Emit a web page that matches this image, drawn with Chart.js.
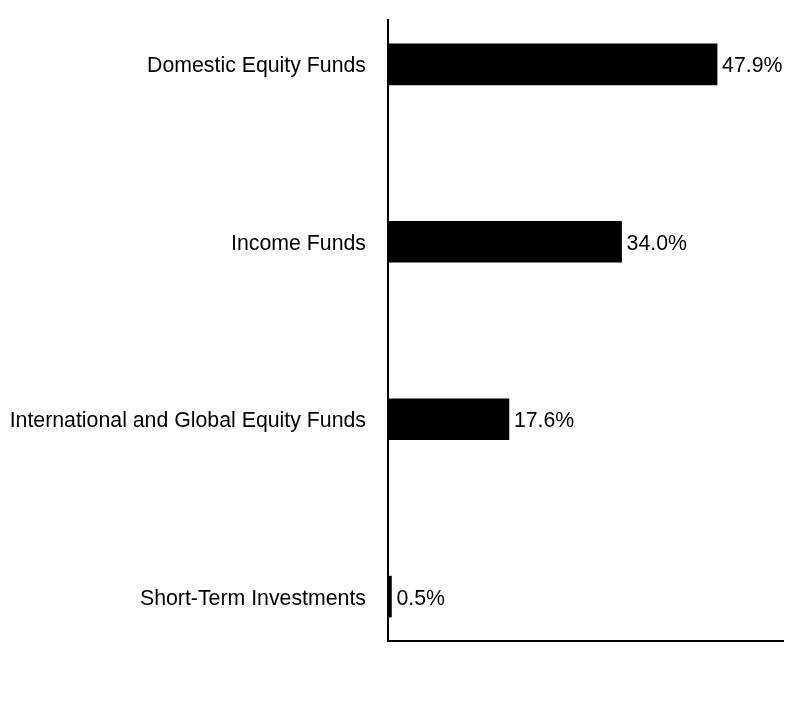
<!DOCTYPE html>
<html>
<head>
<meta charset="utf-8">
<script src="https://cdn.jsdelivr.net/npm/chart.js@4.4.0/dist/chart.umd.min.js"></script>
<style>
  html, body { margin: 0; padding: 0; background: #fff; }
  #wrap { width: 804px; height: 720px; }
</style>
</head>
<body>
<div id="wrap"><canvas id="chart"></canvas></div>
<script>
// chart data
const categories = ['Domestic Equity Funds', 'Income Funds', 'International and Global Equity Funds', 'Short-Term Investments'];
const values = [47.9, 34.0, 17.6, 0.5];
const valueLabels = ['47.9%', '34.0%', '17.6%', '0.5%'];

const FONT = '"Liberation Sans", Arial, sans-serif';
const FONT_SIZE = 21.3;

// value text at the end of each bar
const barLabels = {
  id: 'barLabels',
  afterDatasetsDraw(chart) {
    const ctx = chart.ctx;
    const meta = chart.getDatasetMeta(0);
    ctx.save();
    ctx.font = FONT_SIZE + 'px ' + FONT;
    ctx.fillStyle = '#000';
    ctx.textAlign = 'left';
    ctx.textBaseline = 'middle';
    meta.data.forEach((bar, i) => {
      ctx.fillText(valueLabels[i], bar.x + 5, bar.y + 2);
    });
    ctx.restore();
  }
};

new Chart(document.getElementById('chart').getContext('2d'), {
  type: 'bar',
  data: {
    datasets: [{
      data: values.map((v, i) => ({ x: v, y: i })),
      backgroundColor: '#000',
      borderWidth: 0,
      barThickness: 41
    }]
  },
  options: {
    indexAxis: 'y',
    responsive: true,
    maintainAspectRatio: false,
    animation: false,
    layout: { padding: { top: 20, right: 21, bottom: 79, left: 0 } },
    plugins: {
      legend: { display: false },
      tooltip: { enabled: false }
    },
    scales: {
      x: {
        type: 'linear',
        min: 0,
        max: 57.5,
        grid: { display: false, drawTicks: false },
        border: { display: true, color: '#000', width: 2 },
        ticks: { display: false }
      },
      y: {
        type: 'linear',
        bounds: 'data',
        offset: false,
        reverse: true,
        min: -0.25,
        max: 3.25,
        // one tick per category
        afterBuildTicks(scale) {
          scale.ticks = categories.map((c, i) => ({ value: i }));
        },
        afterFit(scale) {
          scale.width = 388;
          scale.paddingTop = 0;
          scale.paddingBottom = 0;
        },
        grid: { display: false, drawTicks: false, offset: false },
        border: { display: true, color: '#000', width: 2 },
        ticks: {
          autoSkip: false,
          padding: 22,
          labelOffset: 2,
          color: '#000',
          font: { family: FONT, size: FONT_SIZE },
          callback: (v) => categories[Math.round(v)] || ''
        }
      }
    }
  },
  plugins: [barLabels]
});
</script>
</body>
</html>
